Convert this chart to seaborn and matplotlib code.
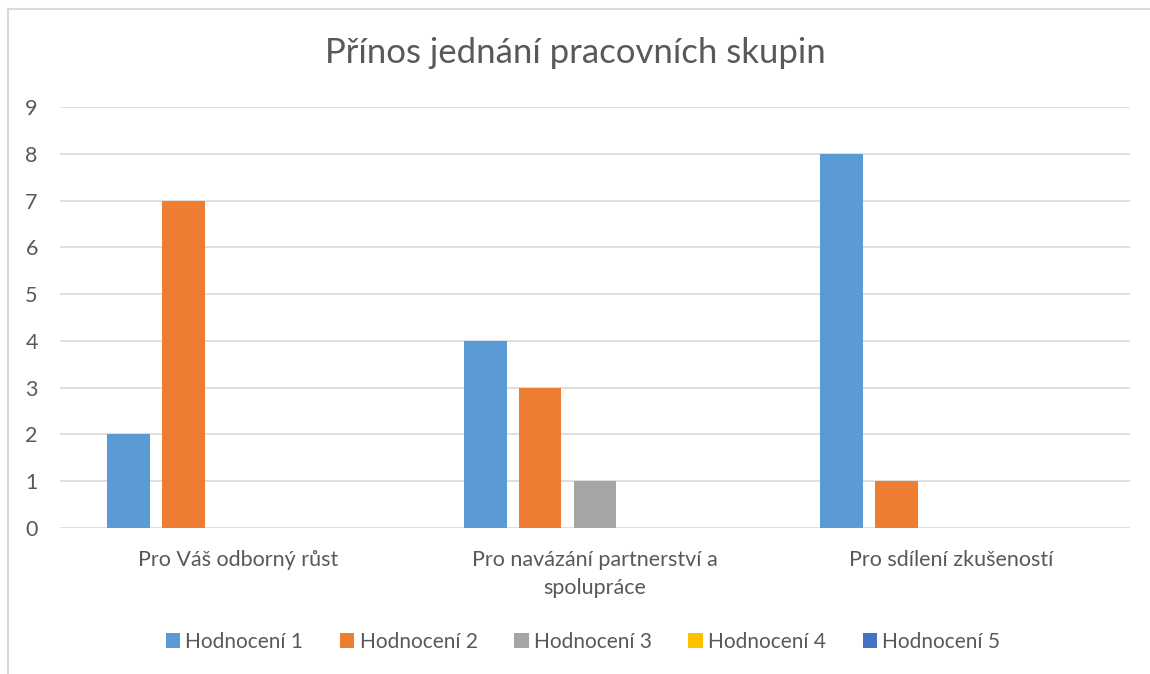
import pandas as pd
import matplotlib.pyplot as plt
import seaborn as sns

categories = ["Pro Váš odborný růst", "Pro navázání partnerství a\nspolupráce", "Pro sdílení zkušeností"]
series = ["Hodnocení 1", "Hodnocení 2", "Hodnocení 3", "Hodnocení 4", "Hodnocení 5"]
hodnoceni_1 = [2, 4, 8]
hodnoceni_2 = [7, 3, 1]
hodnoceni_3 = [0, 1, 0]
hodnoceni_4 = [0, 0, 0]
hodnoceni_5 = [0, 0, 0]
colors = ["#5B9BD5", "#ED7D31", "#A5A5A5", "#FFC000", "#4472C4"]

df = pd.DataFrame(
    [hodnoceni_1, hodnoceni_2, hodnoceni_3, hodnoceni_4, hodnoceni_5],
    index=series, columns=categories,
)
long = df.reset_index(names="series").melt(id_vars="series", var_name="category", value_name="value")

sns.set_style("white")
plt.rcParams["font.family"] = ["Lato", "DejaVu Sans"]
text_color = "#595959"

fig = plt.figure(figsize=(11.5, 6.74), dpi=100)
ax = fig.add_axes([60 / 1150, 1 - 528 / 674, 1070 / 1150, 421 / 674])
sns.barplot(long, x="category", y="value", hue="series", palette=colors, saturation=1,
            width=0.77, gap=0.22, linewidth=0, ax=ax)

ax.set_xlim(-0.5, 2.5)
ax.set_ylim(0, 9)
ax.set_yticks(range(10))
ax.yaxis.grid(True, color="#D9D9D9", linewidth=1.2)
ax.set_axisbelow(True)
for s in ax.spines.values():
    s.set_visible(False)
ax.set_xlabel("")
ax.set_ylabel("")
ax.tick_params(axis="both", length=0, labelsize=15.5, colors=text_color)
ax.tick_params(axis="y", pad=16)
ax.tick_params(axis="x", pad=16)
for lbl in ax.get_xticklabels():
    lbl.set_linespacing(1.5)

handles, labels = ax.get_legend_handles_labels()
ax.get_legend().remove()
fig.legend(handles, labels, loc="center", bbox_to_anchor=(0.507, 1 - 642 / 674), ncol=5,
           frameon=False, fontsize=15, handlelength=0.7, handleheight=0.7,
           handletextpad=0.25, columnspacing=1.75, labelcolor=text_color)

fig.text(0.5, 1 - 53 / 674, "Přínos jednání pracovních skupin", ha="center", va="center",
         fontsize=25, color=text_color)

# chart frame like the Excel export
fig.add_artist(plt.Line2D([8 / 1150, 8 / 1150], [0, 1 - 9 / 674], color="#D9D9D9", linewidth=1.5))
fig.add_artist(plt.Line2D([8 / 1150, 1], [1 - 9 / 674, 1 - 9 / 674], color="#D9D9D9", linewidth=1.5))

fig.savefig("out.png", dpi=100)
